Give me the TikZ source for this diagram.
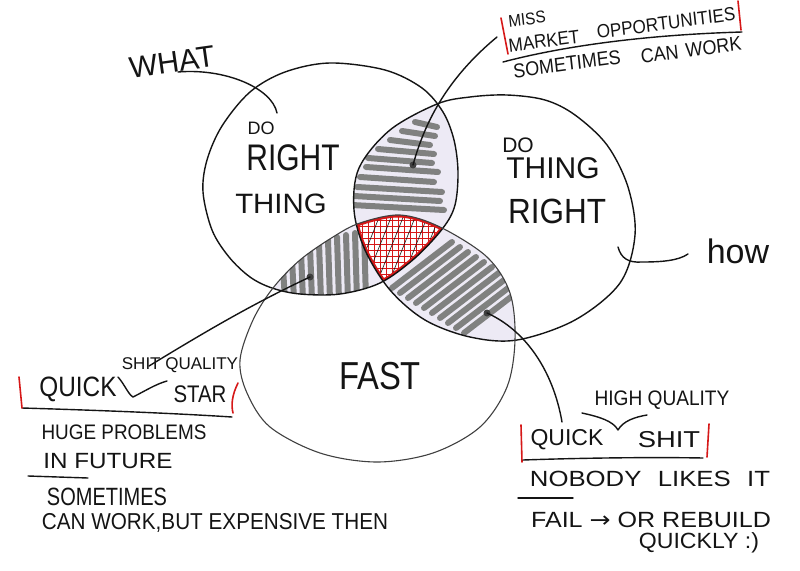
\documentclass[tikz,border=0pt]{standalone}
\usepackage{fontspec}
\setmainfont{Liberation Sans}
\newfontfamily\dvsans{DejaVu Sans}
\newcommand\hsz[1]{\fontsize{#1}{#1}\selectfont}
\definecolor{lav}{RGB}{237,234,245}
\definecolor{scrib}{RGB}{128,129,128}
\definecolor{pen}{RGB}{20,20,20}
\definecolor{redpen}{RGB}{214,24,24}
\def\CA{plot[smooth cycle, tension=0.55] coordinates {(330,63) (385,70) (422,88) (443,112) (454,140) (458,172) (455,205) (443,228) (415,258) (380,283) (340,294) (300,294) (272,288) (250,277) (229,257) (212,230) (203,192) (207,160) (222,126) (250,92) (285,72)}}
\def\CB{plot[smooth cycle, tension=0.55] coordinates {(507,95) (545,100) (575,115) (607,145) (628,187) (635,235) (620,283) (575,320) (517,340) (470,337) (425,320) (390,290) (365,250) (354,210) (359,168) (390,130) (437,104) (470,97)}}
\def\CC{plot[smooth cycle, tension=0.55] coordinates {(400,215) (440,227) (487,257) (510,293) (515,340) (507,387) (480,427) (433,453) (377,462) (320,453) (270,427) (247,393) (240,360) (253,320) (273,288) (300,260) (333,237) (360,223)}}
\begin{document}
\begin{tikzpicture}[x=1pt,y=-1pt, line cap=round, line join=round,
  lbl/.style={inner sep=0pt, text=pen},
  penline/.style={draw=pen, line width=1.4pt},
  redbar/.style={draw=redpen, line width=1.6pt},
  dotmark/.style={circle, fill=black!75, inner sep=0pt, minimum size=7pt},
  scr/.style={draw=scrib, line width=6pt}]
\useasboundingbox (0,0) rectangle (800,570);
\fill[white] (0,0) rectangle (800,570);

% lens fills
\begin{scope}\clip \CA; \fill[lav] \CB; \end{scope}
\begin{scope}\clip \CA; \fill[lav] \CC; \end{scope}
\begin{scope}\clip \CB; \fill[lav] \CC; \end{scope}

% scribbles, upper lens
\begin{scope}\clip \CA; \clip \CB;
  \foreach \ya/\xa/\xb in {122/415/437, 131/402/435, 140/390/430, 149/378/434, 158/368/432, 167/366/438, 177/360/434, 187/357/442, 196/354/440, 205/352/444}
    \draw[scr] (\xa,\ya) -- (\xb,\ya+5);
\end{scope}
% scribbles, lower left lens
\begin{scope}\clip \CA; \clip \CC;
  \foreach \xx/\yt in {283/268, 292/258, 301/252, 310/247, 319/243, 328/240, 337/237, 346/235, 355/233, 364/231}
    \draw[scr] (\xx,\yt) -- (\xx+2,300);
\end{scope}
% scribbles, lower right lens
\begin{scope}\clip \CB; \clip \CC;
  \foreach \k in {0,...,9}
    \draw[scr] ({392+8*\k},{288+5*\k}) -- ++(60,-46);
\end{scope}

% triple region
\begin{scope}\clip \CA; \clip \CB; \clip \CC;
  \fill[white] (340,205) rectangle (470,300);
  \foreach \x in {344,350,...,470} \draw[redpen, line width=0.8pt] (\x,205) -- (\x,300);
  \foreach \y in {208,214,...,300} \draw[redpen, line width=0.8pt] (340,\y) -- (470,\y);
  \foreach \x in {380,392,...,476} \draw[pen, line width=0.6pt] (\x,215) -- ++(-30,75);
  \draw[redpen, line width=5pt] \CA;
  \draw[redpen, line width=5pt] \CB;
  \draw[redpen, line width=5pt] \CC;
\end{scope}

% circles
\draw[pen, line width=1.4pt] \CA;
\draw[pen, line width=1.4pt] \CB;
\draw[black!75, line width=1.1pt] \CC;

% circle labels
\node[lbl, font=\hsz{30}, rotate=8] (what) at (172,62) {WHAT};
\node[lbl, font=\hsz{18}] (do1) at (261,128) {DO};
\node[lbl, font=\hsz{37}, xscale=0.81] (right1) at (293,158) {RIGHT};
\node[lbl, font=\hsz{28}, xscale=1.05] (thing1) at (281,204) {THING};
\node[lbl, font=\hsz{21}] (do2) at (518,145) {DO};
\node[lbl, font=\hsz{30}] (thing2) at (553,168) {THING};
\node[lbl, font=\hsz{35}, xscale=0.9] (right2) at (557,211) {RIGHT};
\node[lbl, font=\hsz{39}, xscale=0.84] (fast) at (380,376) {FAST};
\node[lbl, font=\hsz{34}] (how) at (738,251) {how};

% dots and connectors
\node[dotmark] (dA) at (413,165) {};
\node[dotmark] (dB) at (310,277) {};
\node[dotmark] (dC) at (487,313) {};
\coordinate (eA) at (497,37);
\coordinate (eB) at (149,366);
\coordinate (eC) at (562,422);
\coordinate (w1) at (178,72);
\coordinate (w2) at (277,113);
\coordinate (h1) at (618,247);
\coordinate (h2) at (688,254);
\draw[penline] (dA.center) .. controls (424,125) and (445,80) .. (eA);
\draw[penline] (dB.center) .. controls (250,305) and (200,335) .. (eB);
\draw[penline] (dC.center) .. controls (525,330) and (553,370) .. (eC);
\draw[penline] (w1) .. controls (225,68) and (272,88) .. (w2);
\draw[penline] (h1) .. controls (621,258) and (628,263) .. (642,262) .. controls (660,262) and (678,261) .. (h2);

% top right note
\node[lbl, font=\hsz{17}, xscale=0.9, rotate=7] (miss) at (527,19) {MISS};
\node[lbl, font=\hsz{19}, xscale=0.9, rotate=7] (market) at (544,41) {MARKET};
\node[lbl, font=\hsz{19}, xscale=0.9, rotate=7] (opport) at (666,23) {OPPORTUNITIES};
\node[lbl, font=\hsz{20}, xscale=0.9, rotate=7] (sometimes1) at (567,64) {SOMETIMES};
\node[lbl, font=\hsz{20}, xscale=0.9, rotate=7] (canwork1) at (691,50) {CAN\hspace{8pt}WORK};
\draw[penline] (503,62) .. controls (560,47) and (640,35) .. (742,32);
\draw[redbar] (501,18) -- (508,54);
\draw[redbar] (738,1) -- (741,30);

% left note
\node[lbl, font=\hsz{28}, xscale=0.87] (quick1) at (78,389) {QUICK};
\node[lbl, font=\hsz{17}] (shitq1) at (180,365) {SHIT QUALITY};
\node[lbl, font=\hsz{24}, xscale=0.85] (star) at (200,394) {STAR};
\draw[penline] (118,377) .. controls (125,385) and (128,394) .. (133,397) .. controls (145,391) and (156,384) .. (167,381);
\draw[penline] (22,408) .. controls (90,410) and (170,413) .. (232,417);
\draw[redbar] (19,377) -- (22,408);
\draw[redbar] (238,383) .. controls (232,395) and (231,405) .. (233,413);
\node[lbl, font=\hsz{21}, xscale=0.9] (huge) at (124,432) {HUGE PROBLEMS};
\node[lbl, font=\hsz{22}, xscale=1.1] (future) at (108,461) {IN FUTURE};
\draw[penline] (28,476) -- (88,478);
\node[lbl, font=\hsz{25}, xscale=0.8] (sometimes2) at (107,497) {SOMETIMES};
\node[lbl, font=\hsz{23}, xscale=0.9] (canwork) at (215,523) {CAN WORK,BUT EXPENSIVE THEN};

% right note
\node[lbl, font=\hsz{21}, xscale=0.91] (highq) at (662,400) {HIGH QUALITY};
\draw[penline] (582,413) .. controls (600,417) and (613,421) .. (618,430) .. controls (623,421) and (635,417) .. (647,415);
\node[lbl, font=\hsz{23}] (quick2) at (567,440) {QUICK};
\node[lbl, font=\hsz{23}, xscale=1.19] (shit2) at (669,440) {SHIT};
\draw[redbar] (521,425) -- (522,462);
\draw[redbar] (709,424) -- (707,457);
\draw[penline] (523,460) .. controls (580,458) and (650,457) .. (703,458);
\node[lbl, font=\hsz{22}, xscale=1.17] (nobody) at (650,479) {NOBODY\hspace{14pt}LIKES\hspace{14pt}IT};
\draw[penline] (518,498) -- (573,498);
\node[lbl, font=\hsz{22}, xscale=1.14] (fail) at (651,520) {FAIL {\dvsans →} OR REBUILD};
\node[lbl, font=\hsz{22}, xscale=1.05] (quickly) at (699,543) {QUICKLY :)};
\end{tikzpicture}
\end{document}
